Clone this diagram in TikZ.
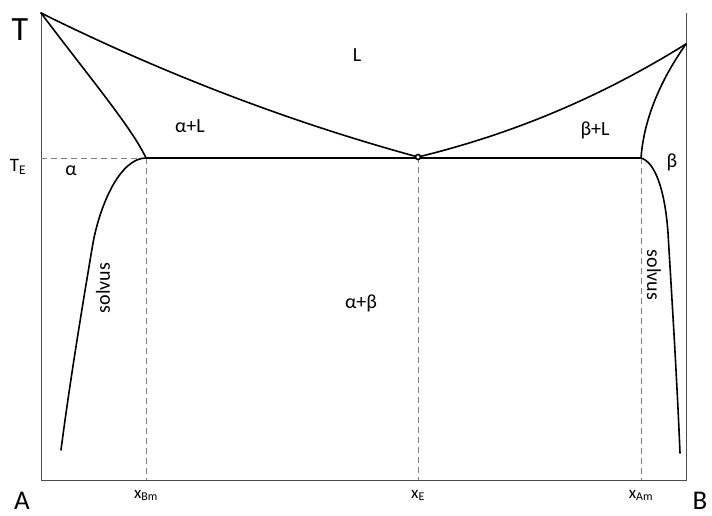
\documentclass[tikz,border=0pt]{standalone}
\usepackage{fontspec}
\setmainfont{Carlito}
\usetikzlibrary{positioning}
\tikzset{
  phase/.style={font=\fontsize{20}{24}\selectfont},
  curve/.style={line width=1.6pt, line join=round, line cap=round},
  axis/.style={line width=0.9pt, black!70},
  guide/.style={gray, line width=0.9pt, dash pattern=on 6pt off 4pt},
  tick/.style={font=\fontsize{17}{20}\selectfont, inner sep=0pt},
  corner/.style={font=\fontsize{27}{30}\selectfont, inner sep=0pt},
}
\begin{document}
\begin{tikzpicture}[x=1pt,y=-1pt]
\useasboundingbox (0,0) rectangle (712,515);
\coordinate (topA) at (41,12);
\coordinate (o) at (41,480);
\coordinate (botB) at (686,480);
\coordinate (topB) at (686,13);
\coordinate (mA) at (41,13);
\coordinate (mB) at (686,44);
\coordinate (e) at (418,157);
\coordinate (sA) at (146,158);
\coordinate (sB) at (641,158);
\coordinate (tE) at (41,158);
\coordinate (endA) at (61,450);
\coordinate (endB) at (680,453);
\coordinate (xBm) at (sA |- o);
\coordinate (xE) at (e |- o);
\coordinate (xAm) at (sB |- o);

\draw[axis] (topA) -- (o) -- (botB) -- (topB);
\draw[guide] (tE) -- (sA);
\draw[guide] (sA) -- (xBm);
\draw[guide] (e) -- (xE);
\draw[guide] (sB) -- (xAm);

\draw[curve] (mA) .. controls (166,75) and (293,123) .. (e);
\draw[curve] (e) .. controls (508,135) and (596,100) .. (mB);
\draw[curve] (mA) .. controls (90,78) and (132,128) .. (sA);
\draw[curve] (mB) .. controls (662,78) and (644,117) .. (sB);
\draw[curve] (sA) -- (sB);
\draw[curve] (sA) .. controls (120,158) and (100,205) .. (93,243)
  .. controls (85,290) and (70,380) .. (endA);
\draw[curve] (sB) .. controls (655,162) and (665,190) .. (668,233)
  .. controls (672,300) and (677,380) .. (endB);
\draw[line width=1.6pt, fill=white] (e) circle (2.5pt);

\node[font=\fontsize{34}{38}\selectfont, inner sep=0pt] (T) at (20,30) {T};
\node[font=\fontsize{19}{22}\selectfont, inner sep=0pt] (TE) at (18,167) {T\textsubscript{E}};
\node[phase] (alpha) at (71,171) {α};
\node[phase] (alphaL) at (190,126) {α+L};
\node[phase] (liq) at (357,55) {L};
\node[phase] (betaL) at (595,130) {β+L};
\node[phase] (beta) at (672,162) {β};
\node[phase] (ab) at (361,303) {α+β};
\node[phase, rotate=90] (solvA) at (103,288) {solvus};
\node[phase, rotate=-90] (solvB) at (654,275) {solvus};

\node[tick, below=10pt of xBm] (lBm) {x\textsubscript{Bm}};
\node[tick, below=10pt of xE] (lE) {x\textsubscript{E}};
\node[tick, below=10pt of xAm] (lAm) {x\textsubscript{Am}};
\node[corner, anchor=south] (A) at (22,510) {A};
\node[corner, anchor=south] (B) at (700,510) {B};
\end{tikzpicture}
\end{document}
